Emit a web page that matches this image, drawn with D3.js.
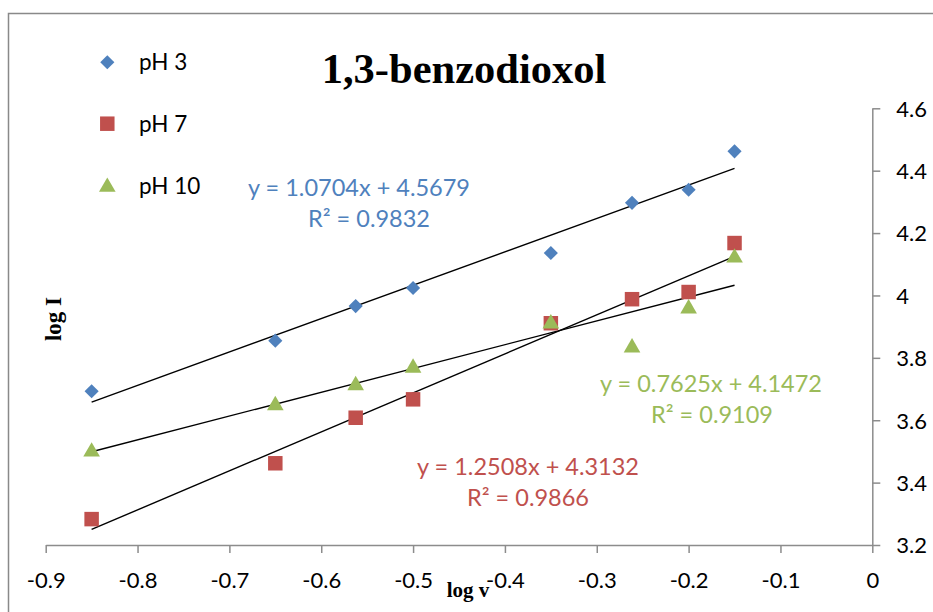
<!DOCTYPE html>
<html>
<head>
<meta charset="utf-8">
<script src="https://cdn.jsdelivr.net/npm/d3@7"></script>
<style>
  html, body { margin: 0; padding: 0; background: #fff; }
  svg { display: block; }
</style>
</head>
<body>
<svg id="chart" width="933" height="612"></svg>
<script>
// log v (scan rate, log scale) shared by all three series
const logV = [-0.85, -0.65, -0.5625, -0.5, -0.35, -0.2616, -0.2, -0.15];

// log I for each pH
const pH3  = [3.693, 3.855, 3.966, 4.024, 4.136, 4.297, 4.339, 4.462];
const pH7  = [3.283, 3.462, 3.608, 3.667, 3.911, 3.988, 4.011, 4.168];
const pH10 = [3.502, 3.651, 3.715, 3.771, 3.913, 3.836, 3.961, 4.124];

// linear fits (slope, intercept, R²)
const fit3  = [1.0704, 4.5679, 0.9832];
const fit7  = [1.2508, 4.3132, 0.9866];
const fit10 = [0.7625, 4.1472, 0.9109];

const seriesNames = ["pH 3", "pH 7", "pH 10"];
const xTicks = [-0.9, -0.8, -0.7, -0.6, -0.5, -0.4, -0.3, -0.2, -0.1, 0];
const yTicks = [3.2, 3.4, 3.6, 3.8, 4.0, 4.2, 4.4, 4.6];

const colors = ["#4F81BD", "#C0504D", "#9BBB59"];
const sans = "Lato, 'Open Sans', sans-serif";
const serif = "'Liberation Serif', 'Times New Roman', serif";

// plain hyphen for negatives, no trailing zeros on whole numbers
const fmtTick = d => (d === 0 ? "0" : Number.isInteger(d) ? String(d) : d.toFixed(1)).replace("\u2212", "-");

const svg = d3.select("#chart");

// outer chart frame
svg.append("rect")
  .attr("x", 8.5).attr("y", 13.5)
  .attr("width", 1000).attr("height", 1000)
  .attr("fill", "none").attr("stroke", "#898989").attr("stroke-width", 1.5);

const x = d3.scaleLinear().domain([-0.9, 0]).range([45.7, 872.3]);
const y = d3.scaleLinear().domain([3.2, 4.6]).range([545, 108.3]);

// x axis (ticks pointing down)
const xAxis = svg.append("g")
  .attr("transform", `translate(0,${y(3.2)})`)
  .call(d3.axisBottom(x).tickValues(xTicks).tickSize(8).tickSizeOuter(0).tickFormat(fmtTick));
xAxis.select(".domain").attr("stroke", "#8c8c8c").attr("stroke-width", 1.5);
xAxis.selectAll(".tick line").attr("stroke", "#8c8c8c").attr("stroke-width", 1.5);
xAxis.selectAll(".tick text")
  .attr("font-family", sans).attr("font-size", 22).attr("fill", "#000")
  .attr("y", 0).attr("dy", null).attr("transform", "translate(0,43)");

// y axis on the right (ticks pointing right, labels outside)
const yAxis = svg.append("g")
  .attr("transform", `translate(${x(0)},0)`)
  .call(d3.axisRight(y).tickValues(yTicks).tickSize(8).tickSizeOuter(0).tickFormat(fmtTick));
yAxis.select(".domain").attr("stroke", "#8c8c8c").attr("stroke-width", 1.5);
yAxis.selectAll(".tick line").attr("stroke", "#8c8c8c").attr("stroke-width", 1.5);
yAxis.selectAll(".tick text")
  .attr("font-family", sans).attr("font-size", 22).attr("fill", "#000")
  .attr("x", 24).attr("dy", "0.36em");

// trend lines, drawn across the data range
const fits = [fit3, fit7, fit10];
const xMin = d3.min(logV), xMax = d3.max(logV);
fits.forEach(f => {
  svg.append("line")
    .attr("x1", x(xMin)).attr("y1", y(f[0] * xMin + f[1]))
    .attr("x2", x(xMax)).attr("y2", y(f[0] * xMax + f[1]))
    .attr("stroke", "#000").attr("stroke-width", 1.4);
});

// marker shapes
const diamond = d3.symbol().type(d3.symbolSquare).size(100);
const square = d3.symbol().type(d3.symbolSquare).size(210);
const triangle = d3.symbol().type(d3.symbolTriangle).size(120);

function drawMarker(g, kind, cx, cy, color) {
  if (kind === 0) {
    g.append("path").attr("d", diamond())
      .attr("transform", `translate(${cx},${cy}) rotate(45)`)
      .attr("fill", color);
  } else if (kind === 1) {
    g.append("path").attr("d", square())
      .attr("transform", `translate(${cx},${cy})`)
      .attr("fill", color);
  } else {
    g.append("path").attr("d", triangle())
      .attr("transform", `translate(${cx},${cy + 1})`)
      .attr("fill", color);
  }
}

const allSeries = [pH3, pH7, pH10];
allSeries.forEach((vals, si) => {
  const g = svg.append("g");
  vals.forEach((v, i) => drawMarker(g, si, x(logV[i]), y(v), colors[si]));
});

// legend
const legendY = [62.3, 123.7, 186];
seriesNames.forEach((name, i) => {
  const g = svg.append("g");
  drawMarker(g, i, 107.3, legendY[i], colors[i]);
  g.append("text")
    .attr("x", 139).attr("y", legendY[i] + 8)
    .attr("font-family", sans).attr("font-size", 22.5).attr("fill", "#000")
    .text(name);
});

// fit equations
const eqPos = [[359, 196, 369, 227], [528, 475, 528, 506], [711, 392, 712, 423]];
const fmtEq = f => `y = ${f[0].toFixed(4)}x + ${f[1].toFixed(4)}`;
fits.forEach((f, i) => {
  const p = eqPos[i];
  svg.append("text").attr("x", p[0]).attr("y", p[1])
    .attr("text-anchor", "middle").attr("font-family", sans).attr("font-size", 23.5)
    .attr("fill", colors[i]).text(fmtEq(f));
  svg.append("text").attr("x", p[2]).attr("y", p[3])
    .attr("text-anchor", "middle").attr("font-family", sans).attr("font-size", 23.5)
    .attr("fill", colors[i]).text(`R² = ${f[2].toFixed(4)}`);
});

// title
svg.append("text")
  .attr("x", 464).attr("y", 83)
  .attr("text-anchor", "middle")
  .attr("font-family", serif).attr("font-weight", "bold").attr("font-size", 42.5)
  .attr("fill", "#000").text("1,3-benzodioxol");

// axis titles
svg.append("text")
  .attr("x", 468).attr("y", 597)
  .attr("text-anchor", "middle")
  .attr("font-family", serif).attr("font-weight", "bold").attr("font-size", 21)
  .attr("fill", "#000").text("log v");

svg.append("text")
  .attr("transform", "translate(61,319) rotate(-90)")
  .attr("text-anchor", "middle")
  .attr("font-family", serif).attr("font-weight", "bold").attr("font-size", 23)
  .attr("fill", "#000").text("log I");
</script>
</body>
</html>
